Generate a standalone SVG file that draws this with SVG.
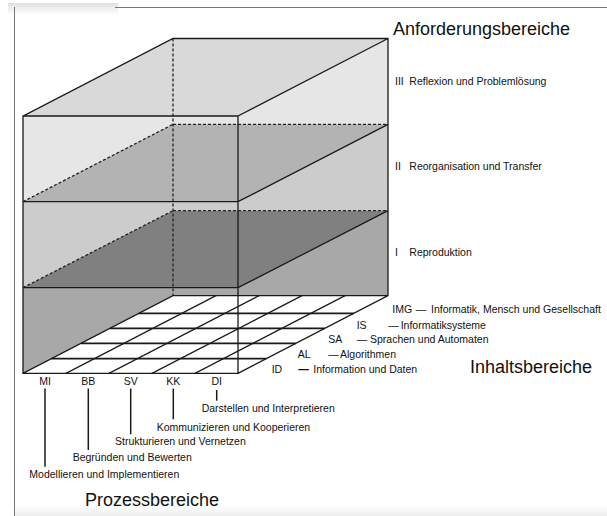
<svg xmlns="http://www.w3.org/2000/svg" width="607" height="516" viewBox="0 0 607 516">
<defs>
<linearGradient id="gTop" x1="0" y1="0" x2="0" y2="1">
<stop offset="0" stop-color="#e0e0e0"/><stop offset="1" stop-color="#ffffff"/>
</linearGradient>
<linearGradient id="gBot" x1="0" y1="0" x2="0" y2="1">
<stop offset="0" stop-color="#ffffff"/><stop offset="1" stop-color="#eeeeee"/>
</linearGradient>
<style>
.e{stroke:#1a1a1a;stroke-width:1.3;fill:none;stroke-linecap:square}
.d{stroke:#222;stroke-width:1.3;fill:none;stroke-dasharray:3 2}
.r{stroke:#1a1a1a;stroke-width:1.8;fill:none}
.t{font-family:"Liberation Sans",Arial,sans-serif;font-size:10.5px;fill:#111}
.h{font-family:"Liberation Sans",Arial,sans-serif;font-size:18px;fill:#111}
.c{text-anchor:middle}
.m{font-weight:bold}
.ld{stroke:#1a1a1a;stroke-width:1.5}
</style>
</defs>
<rect width="607" height="516" fill="#ffffff"/>
<g id="frame">
<rect x="8" y="3" width="110" height="12" fill="url(#gTop)"/>
<rect x="14" y="505" width="593" height="11" fill="url(#gBot)"/>
<line x1="115" y1="7.5" x2="607" y2="7.5" stroke="#777" stroke-width="1"/>
<line x1="14.5" y1="7" x2="14.5" y2="516" stroke="#777" stroke-width="1"/>
</g>
<g id="cube">
<g id="level3">
<polygon points="23,116 173,38.5 388,38.5 238,116" fill="#d9d9d9"/>
<polygon points="23,116 238,116 388,38.5 388,124.3 238,201.7 23,201.7" fill="#e6e6e6"/>
<polygon points="23,201.7 173,124.3 388,124.3 238,201.7" fill="#b3b3b3"/>
</g>
<g id="level2">
<polygon points="23,201.7 238,201.7 388,124.3 388,210.7 238,287.7 23,287.7" fill="#cccccc"/>
<polygon points="23,287.7 173,210.7 388,210.7 238,287.7" fill="#808080"/>
</g>
<g id="level1">
<polygon points="23,287.7 238,287.7 388,210.7 388,295.7 238,373.3 23,373.3" fill="#a8a8a8"/>
</g>
<g id="floor">
<polygon points="23,373.3 173,295.7 388,295.7 238,373.3" fill="#ffffff"/>
<path class="r" d="M139,313.3H354M110,328.3H325M81,343.3H296M51.2,358.7H266.2"/>
<path class="e" d="M66,373.3L216,295.7M109,373.3L259,295.7M152,373.3L302,295.7M195,373.3L345,295.7"/>
</g>
<g id="hidden-edges">
<path class="d" d="M173,38.5V295.7M173,124.3H388M173,210.7H388M23,201.7L173,124.3M23,287.7L173,210.7"/>
</g>
<g id="edges">
<path class="e" d="M23,116H238V373.3H23ZM23,116L173,38.5H388L238,116M388,38.5V295.7L238,373.3M23,201.7H238L388,124.3M23,287.7H238L388,210.7M23,373.3L173,295.7H388"/>
</g>
</g>
<g id="anforderungsbereiche">
<text class="h" x="393" y="35">Anforderungsbereiche</text>
<g id="a3"><text class="t" x="395" y="84.5">III</text><text class="t" x="409.3" y="84.5">Reflexion und Problemlösung</text></g>
<g id="a2"><text class="t" x="395" y="170">II</text><text class="t" x="409.3" y="170">Reorganisation und Transfer</text></g>
<g id="a1"><text class="t" x="395" y="256">I</text><text class="t" x="409.3" y="256">Reproduktion</text></g>
</g>
<g id="inhaltsbereiche">
<g id="img"><text class="t" x="392.3" y="313.3">IMG</text><text class="t" x="415.7" y="313.3">—</text><text class="t" x="431" y="313.3">Informatik, Mensch und Gesellschaft</text></g>
<g id="is"><text class="t" x="356.7" y="328.5">IS</text><text class="t" x="388.3" y="328.5">—</text><text class="t" x="400.7" y="328.5">Informatiksysteme</text></g>
<g id="sa"><text class="t" x="328.3" y="343.3">SA</text><text class="t" x="356.7" y="343.3">—</text><text class="t" x="370" y="343.3">Sprachen und Automaten</text></g>
<g id="al"><text class="t" x="297.7" y="358.3">AL</text><text class="t" x="328.3" y="358.3">—</text><text class="t" x="340" y="358.3">Algorithmen</text></g>
<g id="id"><text class="t" x="271.7" y="373.3">ID</text><text class="t m" x="298.3" y="373.3">—</text><text class="t" x="313.3" y="373.3">Information und Daten</text></g>
<text class="h" x="470" y="373.3">Inhaltsbereiche</text>
</g>
<g id="prozessbereiche">
<g id="mi"><text class="t c" x="45" y="385">MI</text><text class="t" x="29.3" y="478.3">Modellieren und Implementieren</text></g>
<g id="bb"><text class="t c" x="88.3" y="385">BB</text><text class="t" x="72.7" y="461">Begründen und Bewerten</text></g>
<g id="sv"><text class="t c" x="130.7" y="385">SV</text><text class="t" x="115" y="445">Strukturieren und Vernetzen</text></g>
<g id="kk"><text class="t c" x="173.3" y="385">KK</text><text class="t" x="156.7" y="431">Kommunizieren und Kooperieren</text></g>
<g id="di"><text class="t c" x="216.7" y="385">DI</text><text class="t" x="201.7" y="411.7">Darstellen und Interpretieren</text></g>
<text class="h" x="85" y="506">Prozessbereiche</text>
</g>
<g id="connectors">
<line class="ld" x1="45" y1="388.5" x2="45" y2="466.7"/>
<line class="ld" x1="88.3" y1="388.5" x2="88.3" y2="450"/>
<line class="ld" x1="130.7" y1="388.5" x2="130.7" y2="434.3"/>
<line class="ld" x1="173.3" y1="388.5" x2="173.3" y2="419.3"/>
<line class="ld" x1="216.7" y1="390" x2="216.7" y2="400.7"/>
</g>
</svg>
